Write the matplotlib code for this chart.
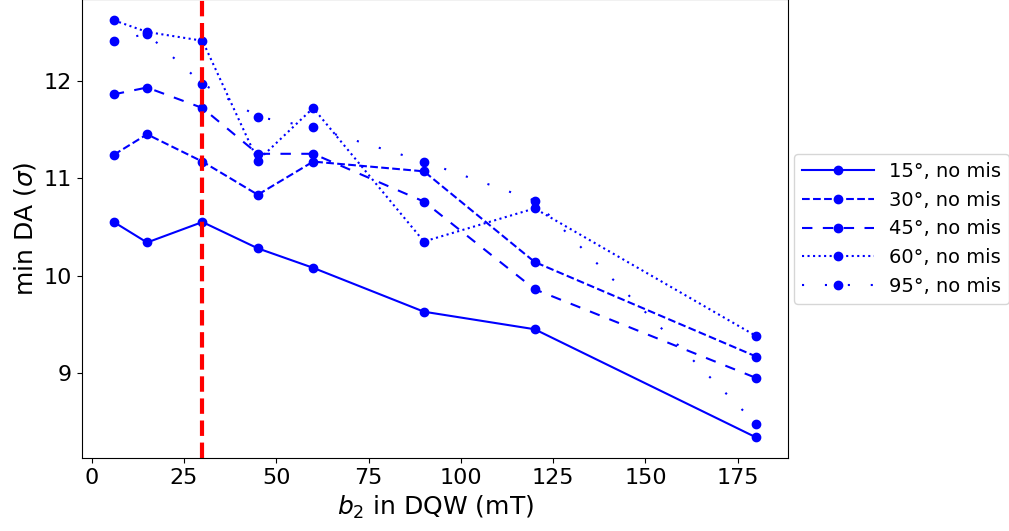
import matplotlib
matplotlib.use("Agg")
import matplotlib.pyplot as plt

b2 = [6, 15, 30, 45, 60, 90, 120, 180]
da_15 = [10.55, 10.34, 10.55, 10.28, 10.08, 9.63, 9.45, 8.34]
da_30 = [11.24, 11.45, 11.17, 10.83, 11.17, 11.07, 10.14, 9.17]
da_45 = [11.86, 11.93, 11.72, 11.25, 11.25, 10.76, 9.86, 8.95]
da_60 = [12.62, 12.50, 12.41, 11.18, 11.72, 10.35, 10.69, 9.38]
da_95 = [12.41, 12.48, 11.97, 11.63, 11.52, 11.17, 10.77, 8.48]
labels = ["15°, no mis", "30°, no mis", "45°, no mis", "60°, no mis", "95°, no mis"]
styles = ["-", "--", (0, (5, 5)), ":", (0, (1, 10))]
series = [da_15, da_30, da_45, da_60, da_95]
nominal_b2 = 30

fig = plt.figure(figsize=(10.09, 5.31), dpi=100)
W, H = 1009, 531
left, right, bottom, top = 81.7, 788.3, 458.3, -0.6
ax = fig.add_axes([left / W, 1 - bottom / H, (right - left) / W, (bottom - top) / H])

for y, lab, ls in zip(series, labels, styles):
    ax.plot(b2, y, color="blue", linestyle=ls, marker="o", lw=1.5, ms=6, label=lab)

ax.axvline(nominal_b2, color="red", linestyle="--", lw=3)

ax.set_xlabel(r"$b_2$ in DQW (mT)", fontsize=18)
ax.set_ylabel(r"min DA ($\sigma$)", fontsize=18)
ax.tick_params(labelsize=16)
ax.legend(loc="center left", bbox_to_anchor=(1, 0.5), fontsize=14, handlelength=3.7,
          borderaxespad=0.3)

fig.savefig("out.png", dpi=100)
